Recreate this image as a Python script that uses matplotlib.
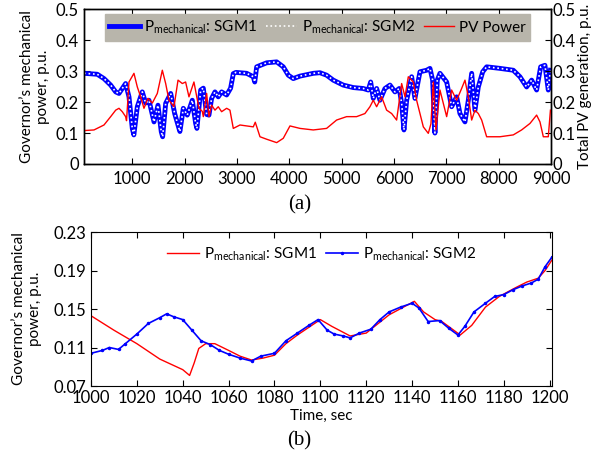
import matplotlib
matplotlib.use("Agg")
import matplotlib.pyplot as plt

plt.rcParams['font.family'] = ['Lato', 'DejaVu Sans']
plt.rcParams['mathtext.default'] = 'regular'

# (a) long run, 0-9000 s
t_a = [80, 331, 459, 587, 683, 746, 809, 873, 937, 1000, 1030, 1096, 1191, 1255, 1319,
       1415, 1491, 1554, 1580, 1638, 1734, 1810, 1892, 1910, 1975, 2051, 2147, 2211, 2235,
       2307, 2357, 2421, 2465, 2516, 2580, 2643, 2707, 2803, 2879, 2930, 2981, 3186, 3312,
       3340, 3377, 3568, 3759, 3885, 3981, 4076, 4204, 4458, 4586, 4713, 4840, 5031, 5222,
       5413, 5509, 5555, 5605, 5669, 5732, 5828, 5924, 6019, 6101, 6147, 6191, 6243, 6338,
       6401, 6497, 6625, 6688, 6739, 6783, 6828, 6879, 7007, 7102, 7198, 7261, 7357, 7421,
       7485, 7548, 7612, 7696, 7771, 8025, 8280, 8407, 8535, 8631, 8726, 8803, 8885, 8949,
       8990]
sgm1_a = [0.293, 0.290, 0.276, 0.255, 0.233, 0.228, 0.244, 0.260, 0.217, 0.115, 0.094,
          0.185, 0.233, 0.197, 0.206, 0.136, 0.190, 0.104, 0.088, 0.196, 0.228, 0.163,
          0.115, 0.105, 0.180, 0.158, 0.206, 0.131, 0.115, 0.239, 0.245, 0.160, 0.158,
          0.212, 0.233, 0.217, 0.233, 0.223, 0.245, 0.292, 0.296, 0.293, 0.282, 0.265,
          0.314, 0.327, 0.330, 0.314, 0.287, 0.276, 0.284, 0.293, 0.295, 0.287, 0.271,
          0.255, 0.247, 0.244, 0.239, 0.265, 0.212, 0.244, 0.206, 0.244, 0.255, 0.233,
          0.244, 0.196, 0.110, 0.206, 0.282, 0.212, 0.298, 0.303, 0.309, 0.271, 0.100,
          0.271, 0.293, 0.265, 0.185, 0.217, 0.163, 0.136, 0.206, 0.293, 0.174, 0.249,
          0.298, 0.314, 0.309, 0.303, 0.282, 0.249, 0.271, 0.239, 0.314, 0.319, 0.239,
          0.303]
# SGM2 sits right on top of SGM1
sgm2_a = sgm1_a

t_pv = [80, 268, 459, 587, 683, 746, 809, 873, 890, 937, 1032, 1096, 1160, 1223, 1300,
        1383, 1478, 1574, 1638, 1701, 1797, 1874, 1956, 2019, 2083, 2178, 2274, 2338, 2357,
        2421, 2465, 2516, 2580, 2643, 2707, 2803, 2866, 2930, 3058, 3312, 3350, 3440, 3568,
        3759, 3885, 4013, 4204, 4458, 4713, 4904, 5095, 5286, 5445, 5541, 5605, 5669, 5764,
        5860, 5956, 6051, 6147, 6211, 6274, 6370, 6433, 6497, 6561, 6656, 6707, 6752, 6802,
        6879, 7007, 7102, 7198, 7293, 7357, 7421, 7485, 7548, 7612, 7676, 7771, 8025, 8280,
        8439, 8599, 8726, 8790, 8854, 8949, 8990]
pv_a = [0.108, 0.110, 0.126, 0.153, 0.174, 0.180, 0.169, 0.153, 0.140, 0.265, 0.293, 0.249,
        0.217, 0.180, 0.212, 0.197, 0.228, 0.303, 0.260, 0.206, 0.185, 0.271, 0.260, 0.265,
        0.217, 0.265, 0.180, 0.170, 0.153, 0.228, 0.153, 0.190, 0.174, 0.185, 0.169, 0.180,
        0.174, 0.115, 0.126, 0.120, 0.135, 0.088, 0.080, 0.069, 0.083, 0.123, 0.115, 0.110,
        0.115, 0.142, 0.153, 0.153, 0.163, 0.185, 0.206, 0.185, 0.217, 0.174, 0.163, 0.142,
        0.260, 0.217, 0.282, 0.265, 0.206, 0.163, 0.120, 0.099, 0.130, 0.265, 0.110, 0.239,
        0.153, 0.239, 0.206, 0.244, 0.271, 0.217, 0.142, 0.174, 0.163, 0.142, 0.088, 0.088,
        0.094, 0.110, 0.131, 0.158, 0.136, 0.088, 0.088, 0.174]

# (b) zoom 1000-1200 s
t_b1 = [1000, 1010, 1020, 1030, 1040, 1043, 1045, 1047, 1050, 1054, 1060, 1065, 1070, 1075,
        1080, 1085, 1090, 1100, 1105, 1113, 1120, 1130, 1141, 1145, 1150, 1153, 1161, 1166,
        1172, 1178, 1185, 1190, 1195, 1198, 1201]
sgm1_b = [0.143, 0.128, 0.114, 0.098, 0.087, 0.081, 0.094, 0.109, 0.114, 0.114, 0.107,
          0.101, 0.097, 0.099, 0.102, 0.114, 0.123, 0.139, 0.132, 0.122, 0.125, 0.144,
          0.158, 0.147, 0.139, 0.137, 0.123, 0.133, 0.152, 0.163, 0.172, 0.178, 0.182,
          0.190, 0.201]
t_b2 = [1000, 1005, 1008, 1012, 1015, 1020, 1025, 1030, 1033, 1036, 1040, 1044, 1048, 1052,
        1056, 1060, 1065, 1070, 1074, 1080, 1085, 1090, 1095, 1099, 1103, 1106, 1110, 1113,
        1117, 1122, 1126, 1130, 1135, 1140, 1143, 1147, 1152, 1156, 1160, 1163, 1167, 1172,
        1176, 1180, 1184, 1188, 1192, 1195, 1198, 1201]
sgm2_b = [0.104, 0.107, 0.110, 0.108, 0.114, 0.124, 0.135, 0.141, 0.145, 0.142, 0.139,
          0.128, 0.117, 0.113, 0.107, 0.103, 0.099, 0.096, 0.101, 0.104, 0.117, 0.125,
          0.133, 0.139, 0.128, 0.124, 0.122, 0.120, 0.125, 0.129, 0.139, 0.147, 0.152,
          0.156, 0.151, 0.137, 0.138, 0.130, 0.123, 0.132, 0.147, 0.156, 0.163, 0.165,
          0.170, 0.174, 0.177, 0.181, 0.194, 0.204]

fig = plt.figure(figsize=(5.99, 4.55), dpi=100)

# ---- (a)
ax1 = fig.add_axes([0.1402, 0.6396, 0.7796, 0.340])
ax1.plot(t_a, sgm1_a, color='#0000ff', lw=3.5, label='P$_{mechanical}$: SGM1')
ax1.plot(t_a, sgm2_a, color='white', lw=1.2, ls=':', label='P$_{mechanical}$: SGM2')
ax1.plot([], [], color='#ff0000', lw=1, label='PV Power')
ax1.set_xlim(77, 9000)
ax1.set_ylim(0, 0.5)
ax1.set_xticks(range(1000, 9001, 1000))
ax1.set_yticks([0, 0.1, 0.2, 0.3, 0.4, 0.5])
ax1.set_yticklabels(['0', '0.1', '0.2', '0.3', '0.4', '0.5'])
ax1.tick_params(direction='in', top=True, labelsize=12, length=4)
ax1.tick_params(axis='x', pad=5)
ax1.set_ylabel('Governor\u2019s mechanical\npower, p.u.', fontsize=11, labelpad=4)

ax1r = ax1.twinx()
ax1r.plot(t_pv, pv_a, color='#ff0000', lw=1)
ax1r.set_ylim(0, 0.5)
ax1r.set_yticks([0, 0.1, 0.2, 0.3, 0.4, 0.5])
ax1r.set_yticklabels(['0', '0.1', '0.2', '0.3', '0.4', '0.5'])
ax1r.tick_params(direction='in', labelsize=12, length=4, pad=1)
ax1r.set_ylabel('Total PV generation, p.u.', fontsize=11, labelpad=2)

leg = ax1.legend(loc='upper center', bbox_to_anchor=(0.5, 0.968), ncol=3, fontsize=11,
                 frameon=True, fancybox=False, facecolor='#b8b5ab', edgecolor='#b8b5ab',
                 framealpha=1, handlelength=2.0, columnspacing=0.6, handletextpad=0.3,
                 borderpad=0.3, borderaxespad=0)
for s in list(ax1.spines.values()) + list(ax1r.spines.values()):
    s.set_linewidth(1)

fig.text(0.5, 0.55, '(a)', ha='center', va='center', fontsize=15, family='Liberation Serif')

# ---- (b)
ax2 = fig.add_axes([0.1519, 0.1516, 0.7696, 0.3385])
ax2.plot(t_b1, sgm1_b, color='#ff0000', lw=1, label='P$_{mechanical}$: SGM1')
ax2.plot(t_b2, sgm2_b, color='#0000ff', lw=1.2, marker='.', ms=3,
         label='P$_{mechanical}$: SGM2')
ax2.set_xlim(1000, 1201)
ax2.set_ylim(0.07, 0.23)
ax2.set_xticks(range(1000, 1201, 20))
ax2.set_yticks([0.07, 0.11, 0.15, 0.19, 0.23])
ax2.tick_params(direction='in', top=True, right=True, labelsize=12, length=4)
ax2.tick_params(axis='x', pad=3)
ax2.set_ylabel('Governor\u2019s mechanical\npower, p.u.', fontsize=11, labelpad=8)
ax2.set_xlabel('Time, sec', fontsize=11, labelpad=2)
ax2.legend(loc='upper center', bbox_to_anchor=(0.5, 0.97), ncol=2, fontsize=11,
           frameon=False, handlelength=2.1, columnspacing=0.6, handletextpad=0.3,
           borderaxespad=0.2)

fig.text(0.5, 0.031, '(b)', ha='center', va='center', fontsize=15, family='Liberation Serif')

fig.savefig('out.png', dpi=100)
